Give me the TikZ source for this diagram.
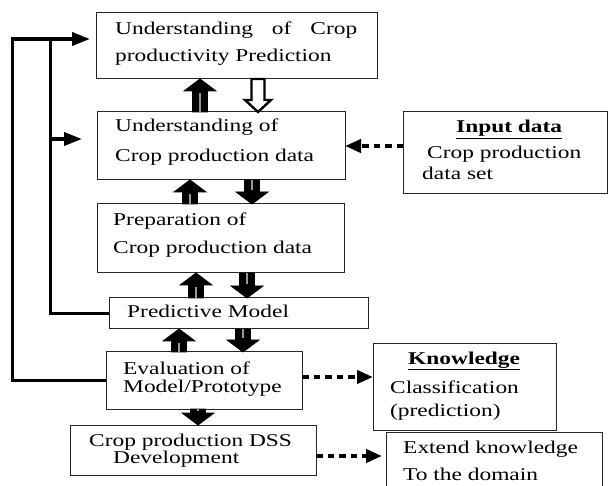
\documentclass[tikz,border=0pt]{standalone}
\usepackage{fontspec}
\setmainfont[FakeStretch=1.3]{Liberation Serif}
\usetikzlibrary{arrows.meta,calc}
\newcommand\darkarr[2]{%
  \path[fill=black, draw=black, line width=0.8pt, line join=miter]
    let \p1=(#1), \p2=(#2), \p3=($(\p2)!12pt!(\p1)$) in
    (\x1-7.5pt,\y1) -- (\x1-7.5pt,\y3) -- (\x1-16pt,\y3) -- (\x1,\y2) -- (\x1+16pt,\y3) -- (\x1+7.5pt,\y3) -- (\x1+7.5pt,\y1) -- cycle;
  \path[draw=black!40, line width=2.5pt]
    let \p1=(#1), \p2=(#2), \p3=($(\p2)!14pt!(\p1)$) in
    (\x1,\y1) -- (\x1,\y3);
}
\newcommand\hollowarr[2]{%
  \path[fill=white, draw=black, line width=2.4pt, line join=miter]
    let \p1=(#1), \p2=(#2), \p3=($(\p2)!12pt!(\p1)$) in
    (\x1-6.5pt,\y1) -- (\x1-6.5pt,\y3) -- (\x1-13pt,\y3) -- (\x1,\y2) -- (\x1+13pt,\y3) -- (\x1+6.5pt,\y3) -- (\x1+6.5pt,\y1) -- cycle;
}
\begin{document}
\begin{tikzpicture}[x=1pt,y=-1pt,
  box/.style={draw=black!85, line width=1pt, inner sep=0pt, outer sep=0pt, anchor=north west},
  txt/.style={anchor=base west, inner sep=0pt, font=\fontsize{18}{20}\selectfont},
  fbline/.style={line width=3.8pt, line join=miter},
  fb/.style={fbline, -{Triangle[length=18pt,width=13pt]}},
  dots/.style={line width=4pt, dash pattern=on 6.5pt off 5pt, -{Triangle[length=16pt,width=13pt]}},
]
\clip (0,0) rectangle (608,486);
\fill[white] (0,0) rectangle (608,486);

% boxes
\node[box, minimum width=281pt, minimum height=66pt] (b1) at (96,13) {};
\node[box, minimum width=248pt, minimum height=68pt] (b2) at (97,112) {};
\node[box, minimum width=247pt, minimum height=69pt] (b3) at (97,204) {};
\node[box, minimum width=259pt, minimum height=31pt] (b4) at (109,298) {};
\node[box, minimum width=196pt, minimum height=57pt] (b5) at (106,352) {};
\node[box, minimum width=246pt, minimum height=50pt] (b6) at (70,425) {};
\node[box, minimum width=204pt, minimum height=82pt] (bin) at (403,112) {};
\node[box, minimum width=183pt, minimum height=86pt] (bk) at (373,344) {};
\node[box, minimum width=216pt, minimum height=70pt] (bx) at (386,432) {};

% texts
\node[txt] (t1a) at (115,35) {\hbox to 242pt{Understanding\hfill of\hfill Crop}};
\node[txt] (t1b) at (115,62) {productivity Prediction};
\node[txt] (t2a) at (115,132) {Understanding of};
\node[txt] (t2b) at (115,162) {Crop production data};
\node[txt] (t3a) at (113,226) {Preparation of};
\node[txt] (t3b) at (113,254) {Crop production data};
\node[txt] (t4) at (127,318) {Predictive Model};
\node[txt] (t5a) at (123,374) {Evaluation of};
\node[txt] (t5b) at (123,392) {Model/Prototype};
\node[txt] (t6a) at (89,446) {Crop production DSS};
\node[txt] (t6b) at (113,463) {Development};
\node[txt] (tia) at (456,133) {\underline{\textbf{Input data}}};
\node[txt] (tib) at (427,159) {Crop production};
\node[txt] (tic) at (422,180) {data set};
\node[txt] (tka) at (408,364) {\underline{\textbf{Knowledge}}};
\node[txt] (tkb) at (390,393) {Classification};
\node[txt] (tkc) at (390,417) {(prediction)};
\node[txt] (txa) at (403,453) {Extend knowledge};
\node[txt] (txb) at (403,480) {To the domain};

% block arrows
\coordinate (u1) at (200,0); \coordinate (d1) at (258,0);
\coordinate (u2) at (190,0); \coordinate (d2) at (252,0);
\coordinate (u3) at (196,0); \coordinate (d3) at (247,0);
\coordinate (u4) at (179,0); \coordinate (d4) at (243,0);
\coordinate (d5) at (198,0);
\darkarr{u1 |- b2.north}{u1 |- b1.south}
\hollowarr{d1 |- b1.south}{d1 |- b2.north}
\darkarr{u2 |- b3.north}{u2 |- b2.south}
\darkarr{d2 |- b2.south}{d2 |- b3.north}
\darkarr{u3 |- b4.north}{u3 |- b3.south}
\darkarr{d3 |- b3.south}{d3 |- b4.north}
\darkarr{u4 |- b5.north}{u4 |- b4.south}
\darkarr{d4 |- b4.south}{d4 |- b5.north}
\darkarr{d5 |- b5.south}{d5 |- b6.north}

% feedback lines
\coordinate (oc) at (12.5,39);
\coordinate (ic) at (50.5,39);
\coordinate (ia) at (50.5,139);
\draw[fb, shorten >=6pt] (b5.west) -| (oc) -- ([yshift=7pt]b1.west);
\draw[fbline] (b4.west) -| (ic);
\draw[fb, shorten >=15pt] (ia) -- (ia -| b2.west);

% dotted arrows
\draw[dots] (bin.west |- b2.east) -- (b2.east);
\draw[dots] ([yshift=3.5pt]b5.east) -- ([yshift=3.5pt]b5.east -| bk.west);
\draw[dots, shorten >=4pt] ([yshift=-6pt]b6.east) -- ([yshift=-6pt]b6.east -| bx.west);
\end{tikzpicture}
\end{document}
